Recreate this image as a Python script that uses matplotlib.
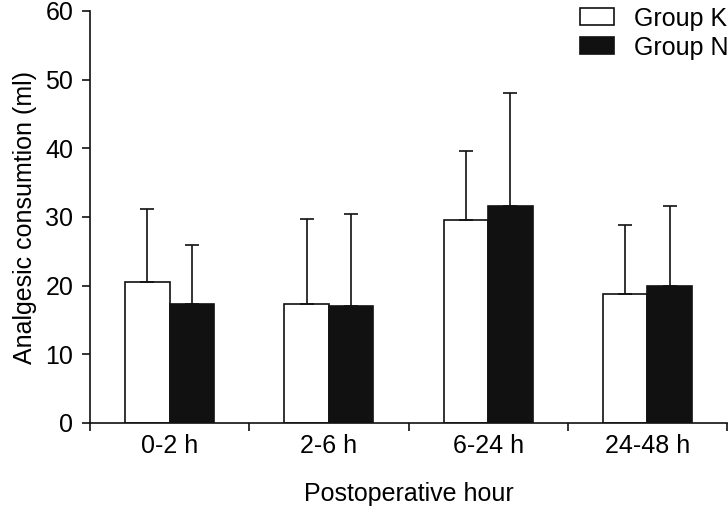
import matplotlib
matplotlib.use('Agg')
import matplotlib.pyplot as plt
import numpy as np

categories = ['0-2 h', '2-6 h', '6-24 h', '24-48 h']
group_k = [20.5, 17.3, 29.5, 18.8]
group_k_sd = [10.6, 12.4, 10.1, 10.0]
group_n = [17.4, 17.0, 31.6, 20.0]
group_n_sd = [8.5, 13.5, 16.5, 11.6]

plt.rcParams['font.family'] = ['Liberation Sans', 'DejaVu Sans']
plt.rcParams['font.size'] = 18

fig = plt.figure(figsize=(7.28, 5.07), dpi=100)
ax = fig.add_axes([90 / 728, (507 - 423) / 507, 637 / 728, (423 - 11) / 507])

x = np.arange(len(categories))
w = 0.28
ink = '#111111'
err_kw = dict(ecolor=ink, elinewidth=1.2, capsize=5, capthick=1.2)

ax.bar(x - w / 2, group_k, w, color='white', edgecolor=ink, linewidth=1.2,
       yerr=[np.zeros(4), group_k_sd], error_kw=err_kw, label='Group K')
ax.bar(x + w / 2, group_n, w, color=ink, edgecolor=ink, linewidth=1.2,
       yerr=[np.zeros(4), group_n_sd], error_kw=err_kw, label='Group N')

ax.set_xlim(-0.5, 3.5)
ax.set_ylim(0, 60)
ax.set_yticks(np.arange(0, 61, 10))
ax.set_xticks(np.arange(-0.5, 4, 1))
ax.set_xticklabels([])
ax.set_xticks(x, minor=True)
ax.set_xticklabels(categories, minor=True)
ax.tick_params(axis='x', which='minor', length=0, pad=8)
ax.tick_params(axis='both', which='major', length=6, width=1.2, color=ink)
ax.tick_params(axis='y', pad=6)

for s in ['top', 'right']:
    ax.spines[s].set_visible(False)
for s in ['left', 'bottom']:
    ax.spines[s].set_linewidth(1.2)
    ax.spines[s].set_color(ink)

ax.set_ylabel('Analgesic consumtion (ml)', labelpad=6)
ax.set_xlabel('Postoperative hour', labelpad=17)

fig.legend(loc='upper right', bbox_to_anchor=(1.004, 0.992), frameon=False,
           handlelength=1.36, handleheight=0.68, handletextpad=0.8,
           labelspacing=0.2, borderpad=0.0, borderaxespad=0.1)

fig.savefig('out.png', dpi=100)
